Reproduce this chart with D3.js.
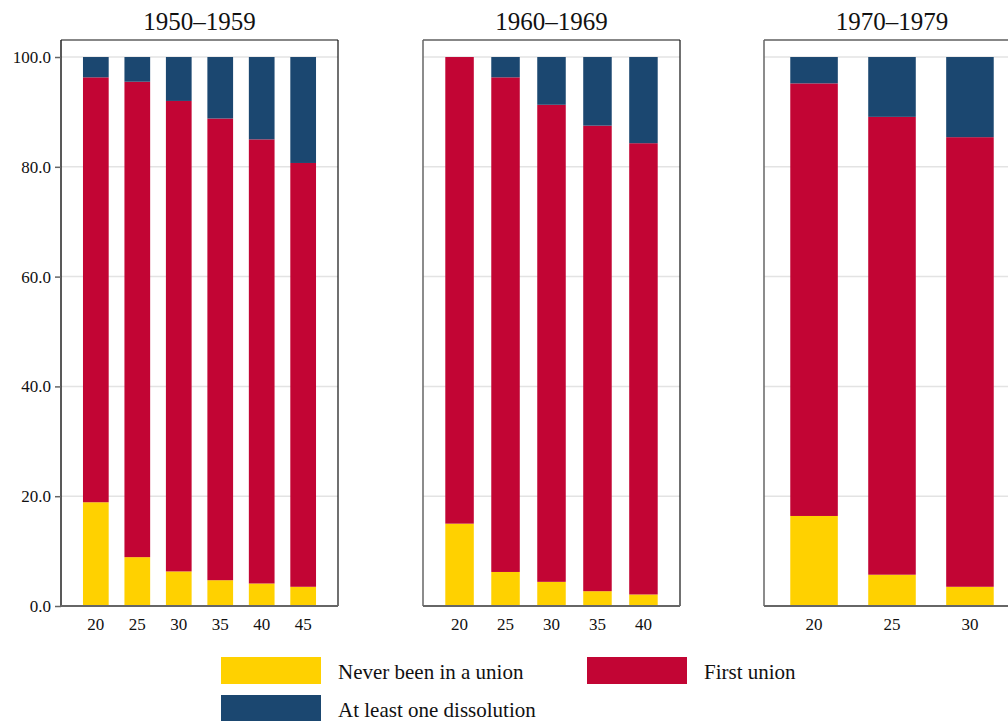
<!DOCTYPE html>
<html>
<head>
<meta charset="utf-8">
<title>Union status by age and decade</title>
<script src="https://d3js.org/d3.v7.min.js"></script>
<style>
  body { margin: 0; padding: 0; background: #fff; }
  svg text { font-family: "Liberation Serif", "Times New Roman", serif; fill: #111; }
</style>
</head>
<body>
<div id="chart"></div>
<script>
// data (percent of women)
var periods = ["1950–1959", "1960–1969", "1970–1979"];
var ages = [[20, 25, 30, 35, 40, 45], [20, 25, 30, 35, 40], [20, 25, 30]];
var neverUnion  = [[18.9, 8.9, 6.3, 4.7, 4.1, 3.5], [15.0, 6.2, 4.4, 2.7, 2.1], [16.4, 5.7, 3.5]];
var firstUnion  = [[77.4, 86.6, 85.7, 84.1, 80.9, 77.2], [85.0, 90.1, 86.9, 84.8, 82.2], [78.8, 83.4, 81.9]];
var dissolution = [[3.7, 4.5, 8.0, 11.2, 15.0, 19.3], [0, 3.7, 8.7, 12.5, 15.7], [4.8, 10.9, 14.6]];
var yTicks = [0, 20, 40, 60, 80, 100];

var keys = ["Never been in a union", "First union", "At least one dissolution"];
var colors = ["#FFD100", "#C20534", "#1B4770"];

var W = 1008, H = 721;
var svg = d3.select("#chart").append("svg")
    .attr("width", W).attr("height", H);

// panel frames
var panels = [
    { left: 61, right: 338, po: 0.53, pi: 0.38 },
    { left: 423, right: 680, po: 0.485, pi: 0.38 },
    { left: 764, right: 1020, po: 0.337, pi: 0.39 }
];

var y = d3.scaleLinear().domain([0, 103.1]).range([606, 40]);

var color = d3.scaleOrdinal().domain(keys).range(colors);

periods.forEach(function (period, p) {
    var pan = panels[p];
    var rows = ages[p].map(function (a, i) {
        var r = { age: a };
        r[keys[0]] = neverUnion[p][i];
        r[keys[1]] = firstUnion[p][i];
        r[keys[2]] = dissolution[p][i];
        return r;
    });
    var stacked = d3.stack().keys(keys)(rows);

    var x = d3.scaleBand()
        .domain(ages[p])
        .range([pan.left, pan.right])
        .paddingInner(pan.pi)
        .paddingOuter(pan.po);

    var g = svg.append("g");

    // gridlines
    g.selectAll(".grid")
        .data(yTicks.slice(1))
        .enter().append("line")
        .attr("x1", pan.left).attr("x2", pan.right)
        .attr("y1", function (d) { return y(d); })
        .attr("y2", function (d) { return y(d); })
        .attr("stroke", "#e3e3e3")
        .attr("stroke-width", 1.5);

    // bars
    g.selectAll(".layer")
        .data(stacked)
        .enter().append("g")
        .attr("fill", function (d) { return color(d.key); })
        .selectAll("rect")
        .data(function (d) { return d; })
        .enter().append("rect")
        .attr("x", function (d) { return x(d.data.age); })
        .attr("width", x.bandwidth())
        .attr("y", function (d) { return y(d[1]); })
        .attr("height", function (d) { return y(d[0]) - y(d[1]); });

    // frame: top + right black, left + bottom axis lines
    g.append("line")
        .attr("x1", pan.left).attr("x2", pan.right)
        .attr("y1", y(103.1)).attr("y2", y(103.1))
        .attr("stroke", "#111").attr("stroke-width", 1.2);
    g.append("line")
        .attr("x1", pan.right).attr("x2", pan.right)
        .attr("y1", y(103.1)).attr("y2", y(0))
        .attr("stroke", "#111").attr("stroke-width", 1.2);
    g.append("line")
        .attr("x1", pan.left).attr("x2", pan.left)
        .attr("y1", y(103.1)).attr("y2", y(0))
        .attr("stroke", p === 0 ? "#222" : "#666").attr("stroke-width", 1.5);

    // x axis
    var xAxis = g.append("g")
        .attr("transform", "translate(0," + y(0) + ")")
        .call(d3.axisBottom(x).tickSize(0).tickPadding(12));
    xAxis.select(".domain")
        .attr("d", "M" + pan.left + ",0H" + pan.right)
        .attr("stroke", "#666").attr("stroke-width", 2);
    xAxis.selectAll("text")
        .style("font-family", "Liberation Serif")
        .style("font-size", "17px")
        .attr("fill", "#111");

    // y axis only on the first panel
    if (p === 0) {
        var yAxis = g.append("g")
            .attr("transform", "translate(" + pan.left + ",0)")
            .call(d3.axisLeft(y).tickValues(yTicks).tickSize(6).tickPadding(4)
                .tickFormat(d3.format(".1f")));
        yAxis.select(".domain").remove();
        yAxis.selectAll(".tick line").attr("stroke", "#666").attr("stroke-width", 1.5);
        yAxis.selectAll("text")
            .style("font-family", "Liberation Serif")
            .style("font-size", "17px")
            .attr("fill", "#111");
    }

    // panel title
    svg.append("text")
        .attr("x", (pan.left + pan.right) / 2)
        .attr("y", 30)
        .attr("text-anchor", "middle")
        .attr("font-size", 25)
        .text(period);
});

// legend
var legendPos = [[221, 657], [587, 657], [221, 695]];
var legend = svg.selectAll(".legend")
    .data(keys)
    .enter().append("g")
    .attr("transform", function (d, i) { return "translate(" + legendPos[i][0] + "," + legendPos[i][1] + ")"; });

legend.append("rect")
    .attr("width", 100).attr("height", 27)
    .attr("fill", function (d) { return color(d); });

legend.append("text")
    .attr("x", 117).attr("y", 22)
    .attr("font-size", 21)
    .text(function (d) { return d; });
</script>
</body>
</html>
